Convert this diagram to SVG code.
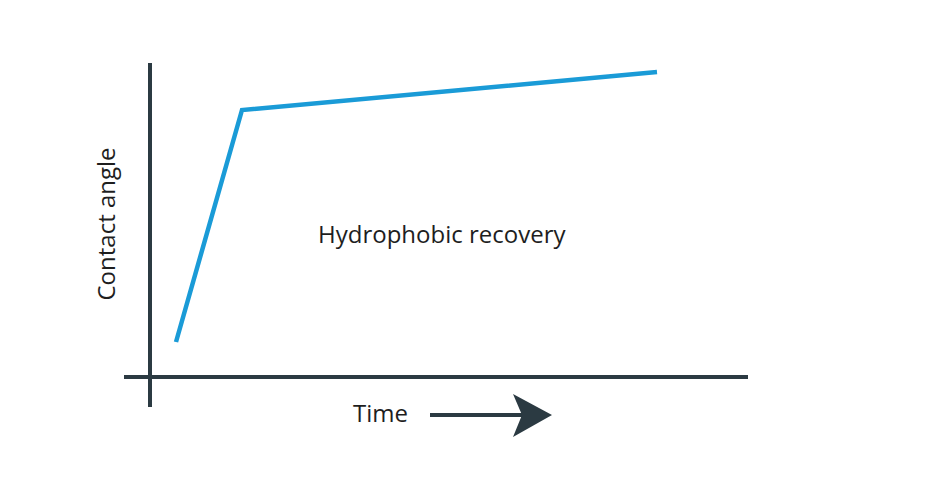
<svg xmlns="http://www.w3.org/2000/svg" width="941" height="480" viewBox="0 0 941 480">
<style>
.ax{stroke:#2b3a42;stroke-width:4;fill:none}
.t{font-family:"Open Sans","DejaVu Sans",sans-serif;font-size:24px;fill:#1e1e1e}
</style>
<rect width="941" height="480" fill="#fff"/>
<g id="axes">
<line class="ax" x1="150" y1="63" x2="150" y2="407"/>
<line class="ax" x1="124" y1="377" x2="748" y2="377"/>
</g>
<g id="curve"><polyline points="176,342 242,110 657,72" fill="none" stroke="#1a9bd7" stroke-width="4.5"/></g>
<g id="labels">
<text class="t" x="318" y="243">Hydrophobic recovery</text>
<text class="t" transform="translate(115,224) rotate(-90)" text-anchor="middle">Contact angle</text>
<text class="t" x="353" y="422">Time</text>
</g>
<g id="connectors">
<line class="ax" x1="430" y1="415" x2="525" y2="415"/>
<path d="M552,415 L513,394 L522,415 L513,437 Z" fill="#2b3a42"/>
</g>
</svg>
